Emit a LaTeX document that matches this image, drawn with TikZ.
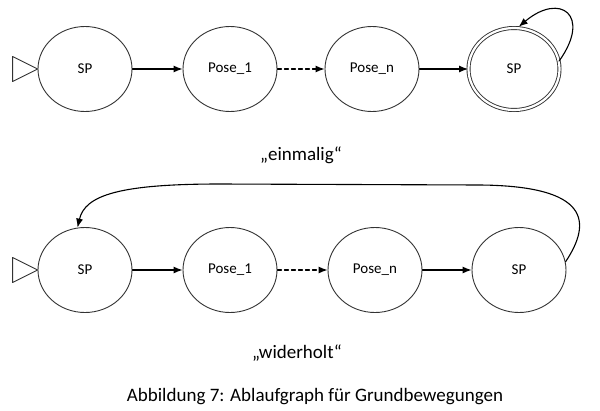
\documentclass[tikz,border=0pt]{standalone}
\usepackage{fontspec}
\setmainfont{Carlito}
\usetikzlibrary{arrows.meta,shapes.geometric}
\begin{document}
\begin{tikzpicture}[x=1pt, y=-1pt, line join=round, line cap=round, >={Latex[length=9pt,width=7pt]},
		trangthai/.style={ellipse, draw=black!80, line width=0.9pt, minimum width=94pt, minimum height=85pt, inner sep=0pt, font=\fontsize{15}{18}\selectfont},
		ketthuc/.style={trangthai, double, double distance=2.2pt, minimum width=91pt, minimum height=82pt},
		canh/.style={->, line width=1.1pt},
		chu/.style={font=\fontsize{19}{23}\selectfont}]
	\useasboundingbox (0,0) rectangle (600,410);
	% einmalig
	\foreach \ten/\x/\nhan in {a1/85/SP, a2/230/Pose\_1, a3/372/Pose\_n}
		\node[trangthai] (\ten) at (\x,69) {\nhan};
	\node[ketthuc] (a4) at (514,69) {SP};
	\draw[draw=black!80, line width=0.9pt] (a1.west) -- ++(-25,-12.5) -- ++(0,25) -- cycle;
	\draw[canh] (a1) -- (a2);
	\draw[canh, dashed, dash pattern=on 4pt off 3pt] (a2) -- (a3);
	\draw[canh] (a3) -- (a4);
	\draw[canh, shorten >=1.5pt] (a4.10) .. controls (592,15) and (560,-8) .. (a4.85);
	\node[chu] (einmal) at (301,155) {„einmalig“};
	% widerholt
	\foreach \ten/\x/\nhan in {b1/85/SP, b2/230/Pose\_1, b3/375/Pose\_n, b4/519/SP}
		\node[trangthai] (\ten) at (\x,270) {\nhan};
	\draw[draw=black!80, line width=0.9pt] (b1.west) -- ++(-25,-12.5) -- ++(0,25) -- cycle;
	\draw[canh] (b1) -- (b2);
	\draw[canh, dashed, dash pattern=on 4pt off 3pt] (b2) -- (b3);
	\draw[canh] (b3) -- (b4);
	\draw[canh] (b4.10) .. controls (592,222) and (590,186) .. (480,185) -- (220,184) .. controls (120,184) and (85,195) .. (b1.100);
	\node[chu] (wieder) at (297,353) {„widerholt“};
	\node[chu] (unterschrift) at (315,397) {Abbildung 7: Ablaufgraph für Grundbewegungen};
\end{tikzpicture}
\end{document}
